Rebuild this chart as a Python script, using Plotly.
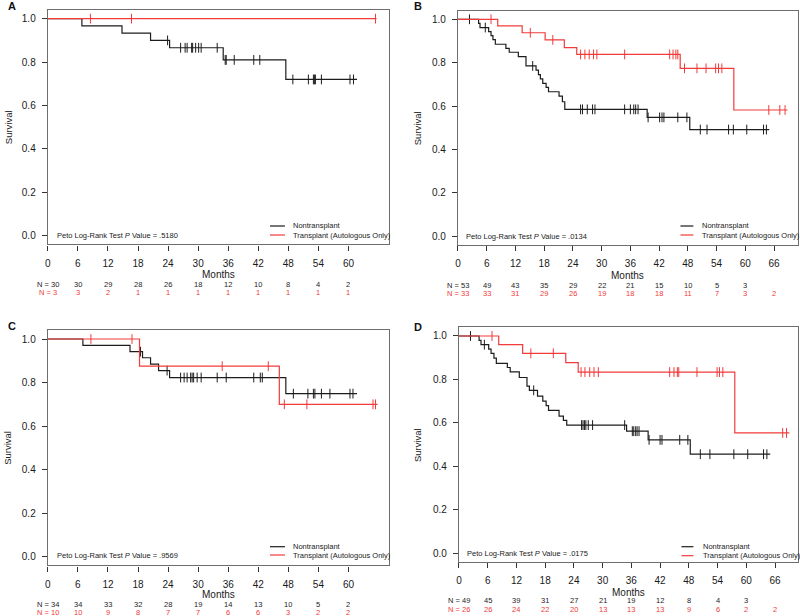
import plotly.graph_objects as go

W, H = 800, 616
FONT = "Liberation Sans, Arial, Helvetica, sans-serif"
BLACK = "#1c1c1c"
RED = "#f23a3a"

# ---------------- data ----------------
MONTHS_60 = [0, 6, 12, 18, 24, 30, 36, 42, 48, 54, 60]
MONTHS_66 = [0, 6, 12, 18, 24, 30, 36, 42, 48, 54, 60, 66]

# Panel A
A_non_t = [6.8, 14.8, 20.5, 24.3, 35.0, 47.5]
A_non_s = [0.967, 0.933, 0.900, 0.866, 0.810, 0.720]
A_non_end = 61.7
A_non_cens = [23.9, 26.5, 27.4, 27.8, 28.7, 28.9, 29.5, 30.1, 30.6, 33.8, 35.4, 35.6,
              37.2, 41.1, 42.3, 48.9, 52.0, 53.0, 53.2, 53.4, 54.6, 60.3, 61.0]
A_tx_t = []
A_tx_s = []
A_tx_end = 65.6
A_tx_cens = [8.5, 16.7, 65.4]
A_n_non = ["N = 30", "30", "29", "28", "26", "18", "12", "10", "8", "4", "2"]
A_n_tx = ["N = 3", "3", "2", "1", "1", "1", "1", "1", "1", "1", "1"]
A_p = ".5180"

# Panel B
B_non_t = [4.3, 4.6, 6.4, 6.9, 7.3, 7.8, 10.0, 10.7, 12.6, 14.2, 16.3, 16.8, 17.2,
           17.7, 18.4, 18.9, 21.1, 21.8, 22.3, 39.5, 48.4]
B_non_s = [0.981, 0.962, 0.943, 0.925, 0.906, 0.885, 0.866, 0.848, 0.828, 0.785, 0.766,
           0.745, 0.725, 0.705, 0.686, 0.666, 0.646, 0.620, 0.585, 0.548, 0.492]
B_non_end = 65.0
B_non_cens = [2.4, 5.7, 15.6, 25.6, 26.0, 27.0, 28.1, 28.6, 34.8, 36.0, 36.7, 37.1, 37.6,
              39.7, 42.1, 42.6, 43.0, 45.9, 47.8, 50.6, 52.0, 56.5, 57.5, 60.3, 63.8, 64.4]
B_tx_t = [8.3, 13.4, 18.2, 22.2, 24.8, 46.4, 57.6]
B_tx_s = [0.970, 0.938, 0.905, 0.869, 0.838, 0.774, 0.582]
B_tx_end = 68.8
B_tx_cens = [6.9, 15.1, 19.8, 25.6, 26.5, 27.4, 28.3, 29.0, 34.8, 44.2, 44.9, 45.5, 45.9,
             47.3, 49.9, 51.8, 53.8, 54.4, 55.1, 64.9, 67.2, 68.3]
B_n_non = ["N = 53", "49", "43", "35", "29", "22", "21", "15", "10", "5", "3", ""]
B_n_tx = ["N = 33", "33", "31", "29", "26", "19", "18", "18", "11", "7", "3", "2"]
B_p = ".0134"

# Panel C
C_non_t = [7.0, 16.4, 18.9, 20.5, 22.1, 24.3, 47.5]
C_non_s = [0.971, 0.942, 0.914, 0.885, 0.855, 0.823, 0.749]
C_non_end = 61.7
C_non_cens = [18.5, 23.8, 26.5, 27.2, 27.8, 28.5, 28.8, 29.1, 29.8, 30.6, 33.8, 35.6,
              41.1, 42.4, 42.8, 49.0, 51.9, 53.0, 53.3, 54.6, 56.3, 60.3, 60.9]
C_tx_t = [18.3, 46.2]
C_tx_s = [0.875, 0.700]
C_tx_end = 65.8
C_tx_cens = [8.6, 16.8, 34.8, 44.0, 47.2, 51.7, 64.9, 65.4]
C_n_non = ["N = 34", "34", "33", "32", "28", "19", "14", "13", "10", "5", "2"]
C_n_tx = ["N = 10", "10", "9", "8", "7", "7", "6", "6", "3", "2", "2"]
C_p = ".9569"

# Panel D
D_non_t = [4.2, 4.6, 6.2, 6.7, 7.3, 7.8, 10.1, 10.7, 12.6, 14.2, 14.7, 16.4, 17.5,
           18.2, 18.7, 20.9, 21.8, 22.5, 35.0, 39.5, 48.3]
D_non_s = [0.980, 0.960, 0.940, 0.920, 0.898, 0.874, 0.855, 0.835, 0.809, 0.769, 0.750,
           0.723, 0.700, 0.680, 0.658, 0.631, 0.612, 0.590, 0.562, 0.522, 0.456]
D_non_end = 65.0
D_non_cens = [2.4, 5.3, 15.6, 25.6, 25.9, 26.2, 26.5, 27.0, 27.9, 34.6, 36.2, 36.5, 36.9,
              37.2, 37.6, 39.7, 42.0, 42.4, 46.1, 47.8, 50.4, 52.4, 57.4, 60.3, 63.6, 64.3]
D_tx_t = [8.3, 13.3, 22.3, 24.9, 57.6]
D_tx_s = [0.960, 0.920, 0.877, 0.834, 0.554]
D_tx_end = 69.0
D_tx_cens = [6.9, 15.0, 19.7, 25.5, 26.3, 27.3, 28.2, 29.1, 44.0, 44.9, 45.6, 45.9, 49.7,
             53.9, 54.4, 55.1, 67.6, 68.4]
D_n_non = ["N = 49", "45", "39", "31", "27", "21", "19", "12", "8", "4", "3", ""]
D_n_tx = ["N = 26", "26", "24", "22", "20", "13", "13", "13", "9", "6", "2", "2"]
D_p = ".0175"

# ---------------- layout geometry (pixels) ----------------
panels = [
    dict(name="A", ax=1, x0=45, x1=387, top=10, bot=244.4, xmax=68.0, ticks=MONTHS_60,
         non=(A_non_t, A_non_s, A_non_end, A_non_cens), tx=(A_tx_t, A_tx_s, A_tx_end, A_tx_cens),
         n_non=A_n_non, n_tx=A_n_tx, p=A_p, lab=(3, 6.5), surv_x=5,
         leg_x=(268, 283, 289), leg_y=(226, 235), p_xy=(51.7, 235.3),
         tab_y=(274, 284, 292.7)),
    dict(name="B", ax=2, x0=456.7, x1=798, top=10.6, bot=245, xmax=71.0, ticks=MONTHS_66,
         non=(B_non_t, B_non_s, B_non_end, B_non_cens), tx=(B_tx_t, B_tx_s, B_tx_end, B_tx_cens),
         n_non=B_n_non, n_tx=B_n_tx, p=B_p, lab=(411, 6.5), surv_x=416,
         leg_x=(680, 693, 700), leg_y=(226, 235), p_xy=(462.7, 236),
         tab_y=(275, 285, 293.7)),
    dict(name="C", ax=3, x0=45, x1=387, top=330.3, bot=565.4, xmax=68.0, ticks=MONTHS_60,
         non=(C_non_t, C_non_s, C_non_end, C_non_cens), tx=(C_tx_t, C_tx_s, C_tx_end, C_tx_cens),
         n_non=C_n_non, n_tx=C_n_tx, p=C_p, lab=(3, 325.5), surv_x=5,
         leg_x=(268, 283, 289), leg_y=(546.7, 555), p_xy=(51.7, 555),
         tab_y=(594.7, 604, 612.7)),
    dict(name="D", ax=4, x0=457.7, x1=798, top=327.3, bot=562, xmax=70.8, ticks=MONTHS_66,
         non=(D_non_t, D_non_s, D_non_end, D_non_cens), tx=(D_tx_t, D_tx_s, D_tx_end, D_tx_cens),
         n_non=D_n_non, n_tx=D_n_tx, p=D_p, lab=(411, 327), surv_x=416,
         leg_x=(681, 693, 701), leg_y=(546.7, 555.7), p_xy=(463.3, 553.3),
         tab_y=(592, 600.7, 609.7)),
]


def px(x):
    return x / W


def py(y):
    return 1 - y / H


def step_xy(t, s, end):
    xs = [0] + list(t) + [end]
    ys = [1.0] + list(s) + [s[-1] if s else 1.0]
    return xs, ys


def surv_at(t, s, time):
    val = 1.0
    for ti, si in zip(t, s):
        if ti <= time:
            val = si
    return val


fig = go.Figure()
annotations = []
shapes = []

for p in panels:
    k = p["ax"]
    xa = "x" if k == 1 else f"x{k}"
    ya = "y" if k == 1 else f"y{k}"
    for grp, col in ((p["non"], BLACK), (p["tx"], RED)):
        t, s, end, cens = grp
        xs, ys = step_xy(t, s, end)
        fig.add_trace(go.Scatter(x=xs, y=ys, mode="lines", line=dict(color=col, width=1.2, shape="hv"),
                                 xaxis=xa, yaxis=ya, showlegend=False, hoverinfo="skip"))
        fig.add_trace(go.Scatter(x=cens, y=[surv_at(t, s, c) for c in cens], mode="markers",
                                 marker=dict(symbol="line-ns-open", size=7, color=col,
                                             line=dict(color=col, width=1)),
                                 xaxis=xa, yaxis=ya, showlegend=False, hoverinfo="skip"))

    axis_common = dict(showline=True, mirror=True, linecolor="#6e6e6e", linewidth=1.2,
                       showgrid=False, zeroline=False, ticks="outside", ticklen=5,
                       tickcolor="#333", tickwidth=1,
                       tickfont=dict(family=FONT, size=10, color="#1a1a1a"))
    xkey = "xaxis" if k == 1 else f"xaxis{k}"
    ykey = "yaxis" if k == 1 else f"yaxis{k}"
    fig.update_layout(**{
        xkey: dict(axis_common, domain=[px(p["x0"]), px(p["x1"])], range=[0, p["xmax"]],
                   tickvals=p["ticks"], anchor=ya, ticklabelstandoff=4),
        ykey: dict(axis_common, domain=[py(p["bot"]), py(p["top"])], range=[-0.04, 1.04],
                   tickvals=[0, 0.2, 0.4, 0.6, 0.8, 1.0], tickformat=".1f", anchor=xa,
                   ticklabelstandoff=4),
    })

    # panel letter
    annotations.append(dict(x=px(p["lab"][0]), y=py(p["lab"][1]), xref="paper", yref="paper",
                            text=f"<b>{p['name']}</b>", showarrow=False, xanchor="left",
                            yanchor="middle", font=dict(family=FONT, size=11, color="#111")))
    # y title
    annotations.append(dict(x=px(p["surv_x"]), y=py((p["top"] + p["bot"]) / 2), xref="paper",
                            yref="paper", text="Survival", textangle=-90, showarrow=False,
                            xanchor="center", yanchor="middle",
                            font=dict(family=FONT, size=9.5, color="#1a1a1a")))
    # Months
    annotations.append(dict(x=px((p["x0"] + p["x1"]) / 2), y=py(p["tab_y"][0]), xref="paper",
                            yref="paper", text="Months", showarrow=False, xanchor="center",
                            yanchor="middle", font=dict(family=FONT, size=10, color="#1a1a1a")))
    # numbers at risk
    for row, col, yy in ((p["n_non"], BLACK, p["tab_y"][1]), (p["n_tx"], RED, p["tab_y"][2])):
        for m, txt in zip(p["ticks"], row):
            if txt:
                annotations.append(dict(x=m, y=py(yy), xref=xa, yref="paper", text=txt,
                                        showarrow=False, xanchor="center", yanchor="middle",
                                        font=dict(family=FONT, size=7.5, color=col)))
    # p value
    annotations.append(dict(x=px(p["p_xy"][0]), y=py(p["p_xy"][1]), xref="paper", yref="paper",
                            text=f"Peto Log-Rank Test <i>P</i> Value = {p['p']}", showarrow=False,
                            xanchor="left", yanchor="middle",
                            font=dict(family=FONT, size=7.5, color="#1a1a1a")))
    # legend
    lx0, lx1, ltx = p["leg_x"]
    for lab, col, yy in (("Nontransplant", BLACK, p["leg_y"][0]),
                         ("Transplant (Autologous Only)", RED, p["leg_y"][1])):
        shapes.append(dict(type="line", xref="paper", yref="paper", x0=px(lx0), x1=px(lx1),
                           y0=py(yy), y1=py(yy), line=dict(color=col, width=1.2)))
        annotations.append(dict(x=px(ltx), y=py(yy), xref="paper", yref="paper", text=lab,
                                showarrow=False, xanchor="left", yanchor="middle",
                                font=dict(family=FONT, size=7.5, color="#1a1a1a")))

fig.update_layout(width=W, height=H, margin=dict(l=0, r=0, t=0, b=0),
                  paper_bgcolor="white", plot_bgcolor="white",
                  annotations=annotations, shapes=shapes, showlegend=False)

fig.write_html("out.html", config={"displayModeBar": False},
               post_script="document.body.style.margin='0';document.body.style.overflow='hidden';")
